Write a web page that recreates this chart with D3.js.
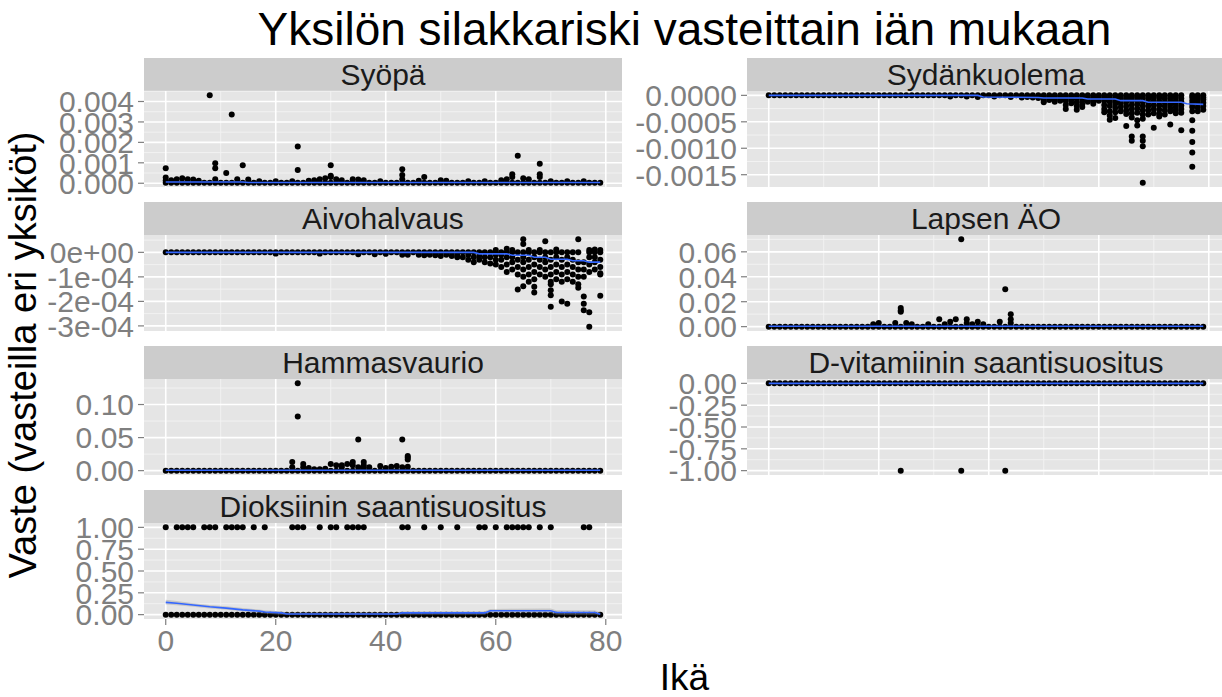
<!DOCTYPE html>
<html><head><meta charset="utf-8">
<script src="https://cdn.jsdelivr.net/npm/d3@7"></script>
<style>body{margin:0;background:#fff}svg{display:block}</style>
</head><body>
<svg id="chart" width="1222" height="697"></svg>
<script>
// ---------------- DATA ----------------
const ages = [0,1,2,3,4,5,6,7,8,9,10,11,12,13,14,15,16,17,18,19,20,21,22,23,24,25,26,27,28,29,30,31,32,33,34,35,36,37,38,39,40,41,42,43,44,45,46,47,48,49,50,51,52,53,54,55,56,57,58,59,60,61,62,63,64,65,66,67,68,69,70,71,72,73,74,75,76,77,78,79];
const xTicks = [0,20,40,60,80];
const xTickLabels = ["0","20","40","60","80"];
const chartTitle = "Yksilön silakkariski vasteittain iän mukaan";
const xTitle = "Ikä";
const yTitle = "Vaste (vasteilla eri yksiköt)";
const panelNames = ["Syöpä","Sydänkuolema","Aivohalvaus","Lapsen ÄO","Hammasvaurio","D-vitamiinin saantisuositus","Dioksiinin saantisuositus"];

// value of the dense row of points seen at every age, per panel
const rowValues = [0.00003, 0, 0, 0, 0, 0, 0];
// ages with no point on that row
const rowMissing = [[], [76], [76], [], [], [], []];

// extra points: [age, [values]]
const syopaExtra = [[0,[0.00073,0.00028,0.00013]],[1,[0.00015]],[2,[0.0002]],[3,[0.00025]],[4,[0.0002]],[5,[0.00018]],[6,[0.00012]],
 [8,[0.0043]],[9,[0.00098,0.00073,0.0002]],[11,[0.0005]],[12,[0.00336]],[13,[0.0002]],[14,[0.00088]],[15,[0.00018]],[17,[0.0001]],[20,[0.0001]],
 [23,[0.0001]],[24,[0.0018,0.00065]],[26,[0.00012]],[27,[0.00015]],[28,[0.0002]],[29,[0.00025]],[30,[0.00088,0.00037,0.0003]],[31,[0.0002]],[32,[0.00015]],
 [34,[0.0002]],[35,[0.00018]],[36,[0.00015]],[39,[0.0001]],[43,[0.00068,0.0004,0.0002]],[46,[0.00012]],[47,[0.0003]],[50,[0.00015]],[51,[0.00012]],
 [55,[0.0001]],[58,[0.0001]],[61,[0.00015]],[62,[0.0002]],[63,[0.00044,0.0003]],[64,[0.00135]],[65,[0.00025]],[66,[0.0002]],[68,[0.00096,0.00044,0.0003]],
 [70,[0.0001]],[73,[0.0001]],[76,[0.0001]]];
const sydanExtra = [[33,[-0.00002]],[36,[-0.00002]],[38,[-0.00003]],[41,[-0.00002]],[44,[-0.00003]],[46,[-0.00002,-0.00004]],[47,[-0.00003]],[48,[-0.00004,-0.00002]],[49,[-0.00005]],
 [50,[-0.00005,-0.0001,-0.00013]],[51,[-0.00004,-0.00009]],[52,[-0.00003,-0.00008,-0.00012]],[53,[-0.00006,-0.0001]],[54,[-0.00005,-0.0001,-0.00018,-0.00026]],
 [55,[-0.00004,-0.00009,-0.00015]],[56,[-0.00006,-0.00013,-0.0002,-0.00027]],[57,[-0.00005,-0.0001,-0.00017,-0.00022]],[58,[-0.00004,-0.00008,-0.00012]],
 [59,[-0.00006,-0.00011,-0.00016]],[60,[-0.00005,-0.0001]],[61,[-0.00004,-0.0001,-0.00018,-0.00026,-0.00032]],[62,[-0.00006,-0.00012,-0.0002,-0.0003,-0.00038,-0.00046]],
 [63,[-0.00005,-0.0001,-0.00016,-0.00024,-0.00032,-0.00043]],[64,[-0.00004,-0.00009,-0.00015,-0.00022,-0.0003]],[65,[-0.00006,-0.00012,-0.0002,-0.00028,-0.00035,-0.00058]],
 [66,[-0.00005,-0.0001,-0.00018,-0.00026,-0.00034,-0.00042,-0.00078,-0.00086]],[67,[-0.00004,-0.0001,-0.00017,-0.00025,-0.00033,-0.00047,-0.00057]],
 [68,[-0.00005,-0.00012,-0.0002,-0.00028,-0.00036,-0.00044,-0.00078,-0.00086,-0.00096,-0.00165]],[69,[-0.00006,-0.00013,-0.0002,-0.00028,-0.00036]],
 [70,[-0.00004,-0.0001,-0.00018,-0.00026,-0.00034,-0.00061]],[71,[-0.00005,-0.00012,-0.00019,-0.00027,-0.00035,-0.0004]],[72,[-0.00006,-0.00013,-0.0002,-0.00028,-0.00036]],
 [73,[-0.00005,-0.00011,-0.00017,-0.00024,-0.0003,-0.00055]],[74,[-0.00004,-0.0001,-0.00016,-0.00022,-0.00028,-0.00034]],[75,[-0.00006,-0.00012,-0.00019,-0.00026,-0.00033,-0.00066]],
 [77,[-0.00004,-0.0001,-0.00016,-0.00022,-0.0003,-0.00047,-0.00067,-0.00088,-0.00108,-0.00135]],[78,[-0.00005,-0.0001,-0.00016,-0.00023,-0.0003]],[79,[-0.00004,-0.00008,-0.00014,-0.0002,-0.00027]]];
const aivoExtra = [[20,[-0.000005]],[28,[-0.000005]],[35,[-0.000008]],[38,[-0.000008]],[40,[-0.000006]],[43,[-0.00001]],[44,[-0.00001]],[46,[-0.00001]],[47,[-0.000012]],
 [48,[-0.00001]],[49,[-0.000012]],[50,[-0.000015]],[51,[-0.00001]],[52,[-0.000015]],[53,[-0.00002,-0.00001]],[54,[-0.00002]],[55,[-0.00003,-0.00001]],[56,[-0.00004,-0.00002]],
 [57,[-0.00003,-0.000015]],[58,[-0.00004,-0.00002]],[59,[-0.000045,-0.00002]],[60,[-0.00005,-0.00003,-0.00001,0.00001]],[61,[-0.00006,-0.00003,-0.00001]],[62,[-0.00008,-0.00005,-0.00002,0.000015]],
 [63,[-0.00007,-0.00004,-0.00002,0.00001]],[64,[-0.00009,-0.00006,-0.00003,-0.000152]],[65,[-0.0001,-0.00007,-0.00004,-0.00002,-0.000138,0.000053,0.000034]],
 [66,[-0.00009,-0.00006,-0.00003,-0.00012,0.00001]],[67,[-0.00008,-0.00005,-0.00002,-0.00011,-0.00014,-0.000164]],[68,[-0.00009,-0.00006,-0.00003,0.00001]],
 [69,[-0.0001,-0.00007,-0.00004,-0.00002,0.000045]],[70,[-0.00012,-0.00009,-0.00006,-0.00003,-0.00013,-0.000155,-0.000175,-0.000222]],[71,[-0.00011,-0.00008,-0.00005,-0.00002,0.000012]],
 [72,[-0.00012,-0.00009,-0.00006,-0.00003,-0.0002]],[73,[-0.00011,-0.00008,-0.00005,-0.00002,-0.00021]],[74,[-0.00012,-0.00009,-0.00006,-0.00003]],
 [75,[-0.00013,-0.0001,-0.00007,-0.00004,-0.000144,0.000053]],[76,[-0.0001,-0.00007,-0.00004,-0.00018,-0.00021,-0.000236]],[77,[-0.00008,-0.00005,-0.00002,-0.000244,-0.000303,0.00001]],
 [78,[-0.00007,-0.00004,-0.00002,0.000012]],[79,[-0.00009,-0.00006,-0.00003,-0.000085,-0.000177,0.00001]]];
const lapsenExtra = [[19,[0.002]],[20,[0.003]],[23,[0.003]],[24,[0.015,0.013,0.012]],[25,[0.003]],[26,[0.002]],[29,[0.002]],[31,[0.006]],[32,[0.002]],[33,[0.004]],[34,[0.006]],
 [35,[0.07]],[36,[0.006,0.003]],[37,[0.002]],[38,[0.004]],[39,[0.002]],[42,[0.004]],[43,[0.03]],[44,[0.01,0.006,0.003]]];
const hammasExtra = [[23,[0.013,0.005]],[24,[0.132,0.082]],[25,[0.01,0.005]],[26,[0.004]],[27,[0.002]],[28,[0.002]],[29,[0.003]],[30,[0.01]],[31,[0.008]],[32,[0.008,0.005]],
 [33,[0.01]],[34,[0.013,0.008]],[35,[0.047,0.005]],[36,[0.013,0.008,0.004]],[37,[0.005]],[39,[0.007]],[40,[0.004]],[41,[0.006]],[42,[0.007]],[43,[0.047,0.005]],
 [44,[0.022,0.02,0.017,0.006]]];
const dvitExtra = [[24,[-1]],[35,[-1]],[43,[-1]]];
const dioxExtraAges = [0,2,3,4,5,7,8,9,11,12,13,14,16,18,23,24,25,28,30,31,33,34,35,36,43,44,47,50,53,57,58,60,62,63,64,65,66,68,70,76,77];
const dioxExtra = dioxExtraAges.map(a => [a, [1]]);

// smoothed trend lines
const syopaSmooth = [[0,0.00006],[14,0.00006],[15,0.00004],[79,0.00004]];
const sydanSmooth = [[0,0],[38,0],[39,-0.00003],[49,-0.00004],[50,-0.00005],[57,-0.00005],[58,-0.00007],[63,-0.00007],[64,-0.0001],[68,-0.0001],[69,-0.00013],[75,-0.00013],[76,-0.00016],[79,-0.00017]];
const aivoSmooth = [[0,0],[56,0],[57,-0.000006],[62,-0.000006],[63,-0.000012],[66,-0.000012],[67,-0.00002],[69,-0.00002],[70,-0.000028],[73,-0.000028],[74,-0.000034],[76,-0.000034],[77,-0.00004],[79,-0.00004]];
const lapsenSmooth = [[0,0.0003],[79,0.0003]];
const hammasSmooth = [[0,0.0005],[79,0.0005]];
const dvitSmooth = [[0,0],[79,0]];
const dioxSmoothAges = [0,2,5,8,11,14,17,18,21,22,42,43,58,59,70,71,78,79];
const dioxSmooth = [0.14,0.13,0.11,0.09,0.075,0.055,0.04,0.03,0.02,0.008,0.008,0.02,0.02,0.045,0.045,0.025,0.025,0.005];
const dioxLo = [0.115,0.108,0.09,0.07,0.055,0.035,0.02,0.01,0.0,0.0,0.0,0.0,0.0,0.025,0.02,0.0,0.0,0.0];
const dioxHi = [0.17,0.155,0.13,0.11,0.095,0.075,0.06,0.05,0.04,0.025,0.025,0.04,0.04,0.065,0.07,0.05,0.05,0.03];

// y ticks
const syopaTicks = [0,0.001,0.002,0.003,0.004], syopaLabels = ["0.000","0.001","0.002","0.003","0.004"];
const sydanTicks = [0,-0.0005,-0.001,-0.0015], sydanLabels = ["0.0000","-0.0005","-0.0010","-0.0015"];
const aivoTicks = [0,-0.0001,-0.0002,-0.0003], aivoLabels = ["0e+00","-1e-04","-2e-04","-3e-04"];
const lapsenTicks = [0,0.02,0.04,0.06], lapsenLabels = ["0.00","0.02","0.04","0.06"];
const hammasTicks = [0,0.05,0.1], hammasLabels = ["0.00","0.05","0.10"];
const dvitTicks = [0,-0.25,-0.5,-0.75,-1], dvitLabels = ["0.00","-0.25","-0.50","-0.75","-1.00"];
const dioxTicks = [0,0.25,0.5,0.75,1], dioxLabels = ["0.00","0.25","0.50","0.75","1.00"];

// ---------------- LAYOUT ----------------
const W = 1222, H = 697;
const colLeft = [144, 747], panelW = 478;
const rowTop = [91, 235, 379, 523], panelH = 96, stripH = 33;
const FONT = "'Liberation Sans', Arial, Helvetica, sans-serif";
const TICKFONT = 30;

const panels = [
  {extra: syopaExtra, smooth: syopaSmooth, ticks: syopaTicks, labels: syopaLabels, col:0, row:0},
  {extra: sydanExtra, smooth: sydanSmooth, ticks: sydanTicks, labels: sydanLabels, col:1, row:0},
  {extra: aivoExtra, smooth: aivoSmooth, ticks: aivoTicks, labels: aivoLabels, col:0, row:1},
  {extra: lapsenExtra, smooth: lapsenSmooth, ticks: lapsenTicks, labels: lapsenLabels, col:1, row:1},
  {extra: hammasExtra, smooth: hammasSmooth, ticks: hammasTicks, labels: hammasLabels, col:0, row:2},
  {extra: dvitExtra, smooth: dvitSmooth, ticks: dvitTicks, labels: dvitLabels, col:1, row:2},
  {extra: dioxExtra, smooth: dioxSmoothAges.map((a,i)=>[a,dioxSmooth[i]]), ribbon: dioxSmoothAges.map((a,i)=>[a,dioxLo[i],dioxHi[i]]),
   ticks: dioxTicks, labels: dioxLabels, col:0, row:3, xaxis:true}
];

const svg = d3.select("#chart");
svg.append("rect").attr("width", W).attr("height", H).attr("fill", "#ffffff");

panels.forEach((p, i) => {
  const x0 = colLeft[p.col], y0 = rowTop[p.row];
  const pts = [];
  ages.forEach(a => { if (!rowMissing[i].includes(a)) pts.push([a, rowValues[i]]); });
  p.extra.forEach(([a, vs]) => vs.forEach(v => pts.push([a, v])));
  const allY = pts.map(d => d[1]).concat(p.smooth.map(d => d[1]));
  if (p.ribbon) p.ribbon.forEach(d => { allY.push(d[1], d[2]); });
  const [ymin, ymax] = d3.extent(allY);
  const pad = (ymax - ymin) * 0.05;
  const x = d3.scaleLinear().domain([-3.95, 82.95]).range([x0, x0 + panelW]);
  const y = d3.scaleLinear().domain([ymin - pad, ymax + pad]).range([y0 + panelH, y0]);

  const g = svg.append("g");
  // strip
  g.append("rect").attr("x", x0).attr("y", y0 - stripH).attr("width", panelW).attr("height", stripH).attr("fill", "#CCCCCC");
  g.append("text").attr("x", x0 + panelW / 2).attr("y", y0 - stripH / 2).attr("dy", "0.36em")
    .attr("text-anchor", "middle").attr("font-family", FONT).attr("font-size", 30).attr("fill", "#1a1a1a").text(panelNames[i]);
  // panel bg
  g.append("rect").attr("x", x0).attr("y", y0).attr("width", panelW).attr("height", panelH).attr("fill", "#E5E5E5");
  // minor grid
  const step = p.ticks[1] - p.ticks[0];
  const yMinor = [];
  const tAll = [p.ticks[0] - step].concat(p.ticks, [p.ticks[p.ticks.length - 1] + step]);
  for (let k = 0; k < tAll.length - 1; k++) {
    const m = (tAll[k] + tAll[k + 1]) / 2;
    const [d0, d1] = y.domain();
    if (m > Math.min(d0, d1) && m < Math.max(d0, d1)) yMinor.push(m);
  }
  const xMinor = [10, 30, 50, 70];
  g.selectAll(null).data(yMinor).enter().append("line")
    .attr("x1", x0).attr("x2", x0 + panelW).attr("y1", d => y(d)).attr("y2", d => y(d))
    .attr("stroke", "#F2F2F2").attr("stroke-width", 1);
  g.selectAll(null).data(xMinor).enter().append("line")
    .attr("y1", y0).attr("y2", y0 + panelH).attr("x1", d => x(d)).attr("x2", d => x(d))
    .attr("stroke", "#F2F2F2").attr("stroke-width", 1);
  // major grid
  g.selectAll(null).data(p.ticks).enter().append("line")
    .attr("x1", x0).attr("x2", x0 + panelW).attr("y1", d => y(d)).attr("y2", d => y(d))
    .attr("stroke", "#ffffff").attr("stroke-width", 1.6);
  g.selectAll(null).data(xTicks).enter().append("line")
    .attr("y1", y0).attr("y2", y0 + panelH).attr("x1", d => x(d)).attr("x2", d => x(d))
    .attr("stroke", "#ffffff").attr("stroke-width", 1.6);

  // clip
  const cid = "clip" + i;
  svg.append("clipPath").attr("id", cid).append("rect").attr("x", x0).attr("y", y0).attr("width", panelW).attr("height", panelH);
  const pg = g.append("g").attr("clip-path", `url(#${cid})`);
  pg.selectAll("circle").data(pts).enter().append("circle")
    .attr("cx", d => x(d[0])).attr("cy", d => y(d[1])).attr("r", 3).attr("fill", "#000");
  if (p.ribbon) {
    pg.append("path").datum(p.ribbon)
      .attr("d", d3.area().x(d => x(d[0])).y0(d => y(d[1])).y1(d => y(d[2])))
      .attr("fill", "#999999").attr("fill-opacity", 0.4);
  }
  pg.append("path").datum(p.smooth)
    .attr("d", d3.line().x(d => x(d[0])).y(d => y(d[1])))
    .attr("fill", "none").attr("stroke", "#3366FF").attr("stroke-width", 1.6);

  // y axis
  const ya = g.append("g");
  ya.selectAll(null).data(p.ticks).enter().append("line")
    .attr("x1", x0 - 6).attr("x2", x0).attr("y1", d => y(d)).attr("y2", d => y(d))
    .attr("stroke", "#7F7F7F").attr("stroke-width", 1.2);
  ya.selectAll(null).data(p.ticks).enter().append("text")
    .attr("x", x0 - 10).attr("y", d => y(d)).attr("dy", "0.36em").attr("text-anchor", "end")
    .attr("font-family", FONT).attr("font-size", TICKFONT).attr("fill", "#7F7F7F")
    .text((d, k) => p.labels[k]);

  if (p.xaxis) {
    const xa = g.append("g");
    xa.selectAll(null).data(xTicks).enter().append("line")
      .attr("x1", d => x(d)).attr("x2", d => x(d)).attr("y1", y0 + panelH).attr("y2", y0 + panelH + 6)
      .attr("stroke", "#7F7F7F").attr("stroke-width", 1.2);
    xa.selectAll(null).data(xTicks).enter().append("text")
      .attr("x", d => x(d)).attr("y", y0 + panelH + 32).attr("text-anchor", "middle")
      .attr("font-family", FONT).attr("font-size", TICKFONT).attr("fill", "#7F7F7F")
      .text((d, k) => xTickLabels[k]);
  }
});

// titles
const midX = (colLeft[0] + colLeft[1] + panelW) / 2;
svg.append("text").attr("x", midX).attr("y", 45).attr("text-anchor", "middle")
  .attr("font-family", FONT).attr("font-size", 46).attr("fill", "#000").text(chartTitle);
svg.append("text").attr("x", midX).attr("y", 690).attr("text-anchor", "middle")
  .attr("font-family", FONT).attr("font-size", 37).attr("fill", "#000").text(xTitle);
const midY = (rowTop[0] + rowTop[3] + panelH) / 2;
svg.append("text").attr("transform", `translate(36,${midY}) rotate(-90)`).attr("text-anchor", "middle")
  .attr("font-family", FONT).attr("font-size", 38).attr("fill", "#000").text(yTitle);
</script>
</body></html>
